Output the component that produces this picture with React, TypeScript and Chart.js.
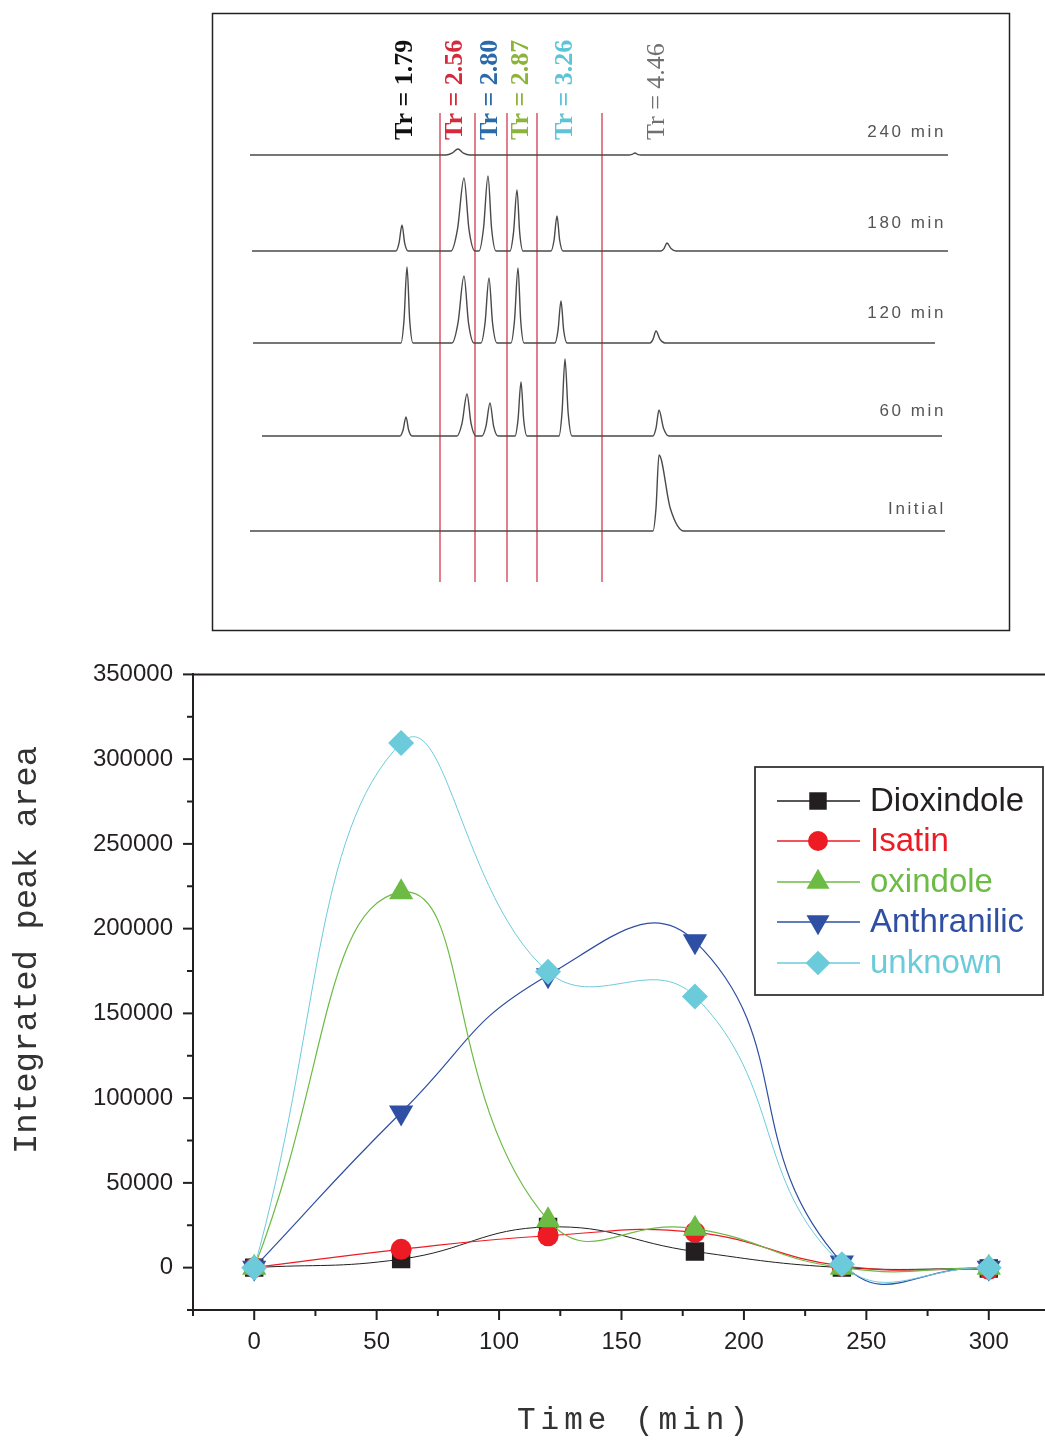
import React, { useEffect, useRef } from 'react';
import { Chart, registerables } from 'chart.js';

Chart.register(...registerables);

// ================= Bottom chart data =================
const times = [0, 60, 120, 180, 240, 300];
const dioxindole = [0, 5000, 24000, 9500, 0, -500];
const isatin = [0, 10800, 18800, 20800, 1000, -1000];
const oxindole = [0, 221500, 28000, 23000, 0, 0];
const anthranilic = [0, 91500, 172500, 192500, 3000, 0];
const unknown = [0, 309500, 174500, 160000, 2000, 0];
const seriesNames = ['Dioxindole', 'Isatin', 'oxindole', 'Anthranilic', 'unknown'];
const xTickLabels = [0, 50, 100, 150, 200, 250, 300];
const yTickLabels = [0, 50000, 100000, 150000, 200000, 250000, 300000, 350000];

// ================= Top chromatogram data =================
const traceNames = ['240 min', '180 min', '120 min', '60 min', 'Initial'];
const traceStart = [0.0, 0.02, 0.03, 0.12, -0.04];
const traceEnd = [6.98, 6.98, 6.85, 6.92, 6.95];
const peaks240 = [2.08, 3.85];
const heights240 = [6, 2];
const peaks180 = [1.52, 2.14, 2.38, 2.67, 3.07, 4.17];
const heights180 = [26, 73, 75, 61, 35, 8];
const peaks120 = [1.57, 2.14, 2.39, 2.68, 3.11, 4.06];
const heights120 = [76, 67, 65, 75, 42, 12];
const peaks60 = [1.56, 2.17, 2.4, 2.71, 3.15, 4.09];
const heights60 = [19, 42, 33, 54, 77, 26];
const peaksInitial = [4.09];
const heightsInitial = [76];
// peak half-widths (left / right of apex), minutes
const widthL240 = [0.12, 0.06];
const widthR240 = [0.12, 0.06];
const widthL180 = [0.06, 0.13, 0.09, 0.07, 0.06, 0.06];
const widthR180 = [0.06, 0.11, 0.08, 0.06, 0.06, 0.09];
const widthL120 = [0.06, 0.12, 0.08, 0.07, 0.06, 0.06];
const widthR120 = [0.06, 0.1, 0.08, 0.06, 0.06, 0.09];
const widthL60 = [0.06, 0.1, 0.08, 0.06, 0.06, 0.06];
const widthR60 = [0.06, 0.09, 0.08, 0.06, 0.07, 0.1];
const widthLInitial = [0.06];
const widthRInitial = [0.25];

const trLabels = ['Tr = 1.79', 'Tr = 2.56', 'Tr = 2.80', 'Tr = 2.87', 'Tr = 3.26', 'Tr = 4.46'];
const trLabelTimes = [1.55, 2.05, 2.4, 2.71, 3.15, 4.07];
const markerLineTimes = [1.9, 2.25, 2.57, 2.87, 3.52];

// ================= Styles / layout =================
const seriesColors = ['#231f20', '#ed1c24', '#6cbb45', '#2e4fa3', '#6ccbdb'];
const seriesStyles = ['rect', 'circle', 'triangle', 'triangle', 'rectRot'];
const seriesRotations = [0, 0, 0, 180, 0];
const seriesRadii = [13, 10.5, 14, 14, 13];
const seriesOrders = [5, 4, 2, 3, 1];
const seriesLineWidths = [1, 1.2, 1.2, 1.2, 1];
const seriesTension = [0.45, 0.45, 0.5, 0.5, 0.45];

const TRACE_OFFSETS = [475, 379, 287, 194, 99];
const TRACE_LABEL_Y = [132, 223, 313, 411, 509];
const trLabelColors = ['#111111', '#d42a3c', '#2a6aa8', '#8cb43a', '#5cc4d6', '#707070'];
const trLabelBold = [true, true, true, true, true, false];
const AXIS_COLOR = '#231f20';

function buildTrace(start: number, end: number, pk: number[], h: number[], wl: number[], wr: number[], base: number) {
  const pts: { x: number; y: number }[] = [{ x: start, y: base }];
  pk.forEach((t, i) => {
    pts.push({ x: t - wl[i], y: base });
    pts.push({ x: t - wl[i] * 0.5, y: base + h[i] * 0.3 });
    pts.push({ x: t, y: base + h[i] });
    pts.push({ x: t + wr[i] * 0.45, y: base + h[i] * 0.3 });
    pts.push({ x: t + wr[i], y: base });
  });
  pts.push({ x: end, y: base });
  return pts;
}

function drawMarker(ctx: CanvasRenderingContext2D, style: string, rot: number, x: number, y: number, r: number, color: string) {
  ctx.save();
  ctx.fillStyle = color;
  ctx.beginPath();
  if (style === 'rect') {
    const s = r * Math.SQRT1_2;
    ctx.rect(x - s, y - s, 2 * s, 2 * s);
  } else if (style === 'circle') {
    ctx.arc(x, y, r, 0, Math.PI * 2);
  } else if (style === 'triangle') {
    const d = rot === 180 ? -1 : 1;
    const hw = r * Math.sin((2 * Math.PI) / 3);
    ctx.moveTo(x, y - d * r);
    ctx.lineTo(x + hw, y + d * r * 0.5);
    ctx.lineTo(x - hw, y + d * r * 0.5);
    ctx.closePath();
  } else if (style === 'rectRot') {
    ctx.moveTo(x - r, y);
    ctx.lineTo(x, y - r);
    ctx.lineTo(x + r, y);
    ctx.lineTo(x, y + r);
    ctx.closePath();
  }
  ctx.fill();
  ctx.restore();
}

const topDecor = {
  id: 'topDecor',
  afterDraw(chart: any) {
    const ctx: CanvasRenderingContext2D = chart.ctx;
    const xs = chart.scales.x;
    ctx.save();
    ctx.strokeStyle = '#222';
    ctx.lineWidth = 1.5;
    ctx.strokeRect(212.5, 13.5, 797, 617);
    trLabels.forEach((txt, i) => {
      ctx.save();
      ctx.translate(xs.getPixelForValue(trLabelTimes[i]), 140);
      ctx.rotate(-Math.PI / 2);
      ctx.font = `${trLabelBold[i] ? 'bold ' : ''}26px 'Liberation Serif', 'Times New Roman', serif`;
      ctx.fillStyle = trLabelColors[i];
      ctx.textAlign = 'left';
      ctx.textBaseline = 'middle';
      ctx.fillText(txt, 0, 0);
      ctx.restore();
    });
    ctx.font = "17px 'Liberation Sans', Arial, sans-serif";
    (ctx as any).letterSpacing = '2.6px';
    ctx.fillStyle = '#555';
    ctx.textAlign = 'right';
    ctx.textBaseline = 'middle';
    traceNames.forEach((n, i) => {
      ctx.fillText(n, 946, TRACE_LABEL_Y[i]);
    });
    ctx.restore();
  },
};

const bottomDecor = {
  id: 'bottomDecor',
  afterDraw(chart: any) {
    const ctx: CanvasRenderingContext2D = chart.ctx;
    const xs = chart.scales.x;
    const ys = chart.scales.y;
    const area = chart.chartArea;
    ctx.save();
    ctx.strokeStyle = AXIS_COLOR;
    ctx.lineWidth = 2;
    // top frame line
    ctx.beginPath();
    ctx.moveTo(area.left - 1, area.top);
    ctx.lineTo(area.right + 5, area.top);
    ctx.stroke();
    // x ticks
    for (let v = xs.min; v <= xs.max + 0.001; v += 25) {
      const px = xs.getPixelForValue(v);
      const len = xTickLabels.includes(v) ? 10 : 6;
      ctx.beginPath();
      ctx.moveTo(px, area.bottom);
      ctx.lineTo(px, area.bottom + len);
      ctx.stroke();
    }
    // y ticks
    for (let v = ys.min; v <= ys.max + 1; v += 25000) {
      const py = ys.getPixelForValue(v);
      const len = yTickLabels.includes(v) ? 10 : 6;
      ctx.beginPath();
      ctx.moveTo(area.left, py);
      ctx.lineTo(area.left - len, py);
      ctx.stroke();
    }
    // axis titles
    ctx.fillStyle = '#333';
    ctx.font = "34px 'Liberation Mono', 'Courier New', monospace";
    ctx.textAlign = 'center';
    ctx.textBaseline = 'middle';
    ctx.save();
    ctx.translate(27, 310);
    ctx.rotate(-Math.PI / 2);
    ctx.fillText('Integrated peak area', 0, 0);
    ctx.restore();
    ctx.save();
    ctx.font = "31px 'Liberation Mono', 'Courier New', monospace";
    (ctx as any).letterSpacing = '5px';
    ctx.fillText('Time (min)', 635, 781);
    ctx.restore();
    // legend
    const bx = 755, by = 127, bw = 288, bh = 228;
    ctx.fillStyle = '#fff';
    ctx.fillRect(bx, by, bw, bh);
    ctx.strokeStyle = '#333';
    ctx.lineWidth = 1.8;
    ctx.strokeRect(bx, by, bw, bh);
    const rows = [161, 201, 242, 282, 323];
    seriesNames.forEach((name, i) => {
      const y = rows[i];
      ctx.strokeStyle = seriesColors[i];
      ctx.lineWidth = 1.5;
      ctx.beginPath();
      ctx.moveTo(777, y);
      ctx.lineTo(860, y);
      ctx.stroke();
      drawMarker(ctx, seriesStyles[i], seriesRotations[i], 818, y, seriesRadii[i] * 0.95, seriesColors[i]);
      ctx.fillStyle = seriesColors[i];
      ctx.font = "33px 'Liberation Sans', Arial, sans-serif";
      ctx.textAlign = 'left';
      ctx.textBaseline = 'middle';
      ctx.fillText(name, 870, y + 1);
    });
    ctx.restore();
  },
};

export default function App() {
  const topRef = useRef<HTMLCanvasElement>(null);
  const botRef = useRef<HTMLCanvasElement>(null);

  useEffect(() => {
    const tracePeaks = [peaks240, peaks180, peaks120, peaks60, peaksInitial];
    const traceHeights = [heights240, heights180, heights120, heights60, heightsInitial];
    const traceWL = [widthL240, widthL180, widthL120, widthL60, widthLInitial];
    const traceWR = [widthR240, widthR180, widthR120, widthR60, widthRInitial];

    const traceDatasets = traceNames.map((n, i) => ({
      label: n,
      data: buildTrace(traceStart[i], traceEnd[i], tracePeaks[i], traceHeights[i], traceWL[i], traceWR[i], TRACE_OFFSETS[i]),
      borderColor: '#4a4a4a',
      borderWidth: 1.4,
      pointRadius: 0,
      tension: 0.3,
      cubicInterpolationMode: 'monotone' as const,
    }));
    const redLines = markerLineTimes.map((t) => ({
      label: 'line',
      data: [
        { x: t, y: 48 },
        { x: t, y: 517 },
      ],
      borderColor: '#d23a50',
      borderWidth: 1.3,
      pointRadius: 0,
      tension: 0,
    }));

    const top = new Chart(topRef.current as HTMLCanvasElement, {
      type: 'line',
      data: { datasets: [...traceDatasets, ...redLines] as any },
      options: {
        animation: false,
        responsive: false,
        devicePixelRatio: 1,
        layout: { padding: { left: 250, right: 95, top: 13, bottom: 10 } },
        plugins: { legend: { display: false }, tooltip: { enabled: false } },
        scales: {
          x: { type: 'linear', min: 0, max: 7, display: false },
          y: { type: 'linear', min: 0, max: 617, display: false },
        },
      },
      plugins: [topDecor],
    });

    const seriesData = [dioxindole, isatin, oxindole, anthranilic, unknown];
    const datasets = seriesNames.map((name, i) => ({
      label: name,
      data: times.map((t, j) => ({ x: t, y: seriesData[i][j] })),
      borderColor: seriesColors[i],
      backgroundColor: seriesColors[i],
      borderWidth: seriesLineWidths[i],
      pointStyle: seriesStyles[i] as any,
      pointRotation: seriesRotations[i],
      pointRadius: seriesRadii[i],
      pointBackgroundColor: seriesColors[i],
      pointBorderWidth: 0,
      tension: seriesTension[i],
      order: seriesOrders[i],
    }));

    const tickFont = { family: "'Liberation Sans', Arial, sans-serif", size: 24 };
    const bot = new Chart(botRef.current as HTMLCanvasElement, {
      type: 'line',
      data: { datasets: datasets as any },
      options: {
        animation: false,
        responsive: false,
        devicePixelRatio: 1,
        layout: { padding: { left: 0, right: 10, top: 32, bottom: 0 } },
        plugins: { legend: { display: false }, tooltip: { enabled: false } },
        scales: {
          x: {
            type: 'linear',
            min: -25,
            max: 325,
            grid: { display: false, drawTicks: false },
            border: { display: true, color: AXIS_COLOR, width: 2 },
            ticks: {
              stepSize: 25,
              autoSkip: false,
              maxRotation: 0,
              minRotation: 0,
              padding: 18,
              color: AXIS_COLOR,
              font: tickFont,
              callback: (v: any) => (xTickLabels.includes(Number(v)) ? String(v) : ''),
            },
            afterFit: (s: any) => {
              s.height = 131;
            },
          },
          y: {
            type: 'linear',
            min: -25000,
            max: 350000,
            grid: { display: false, drawTicks: false },
            border: { display: true, color: AXIS_COLOR, width: 2 },
            ticks: {
              stepSize: 25000,
              autoSkip: false,
              padding: 20,
              color: AXIS_COLOR,
              font: tickFont,
              callback: (v: any) => (yTickLabels.includes(Number(v)) ? String(v) : ''),
            },
            afterFit: (s: any) => {
              s.width = 193;
            },
          },
        },
      },
      plugins: [bottomDecor],
    });

    return () => {
      top.destroy();
      bot.destroy();
    };
  }, []);

  return (
    <div
      style={{
        position: 'absolute',
        left: 0,
        top: 0,
        width: 1045,
        height: 1441,
        overflow: 'hidden',
        background: '#fff',
      }}
    >
      <canvas ref={topRef} width={1045} height={640} style={{ position: 'absolute', left: 0, top: 0 }} />
      <canvas ref={botRef} width={1068} height={801} style={{ position: 'absolute', left: 0, top: 640 }} />
    </div>
  );
}
